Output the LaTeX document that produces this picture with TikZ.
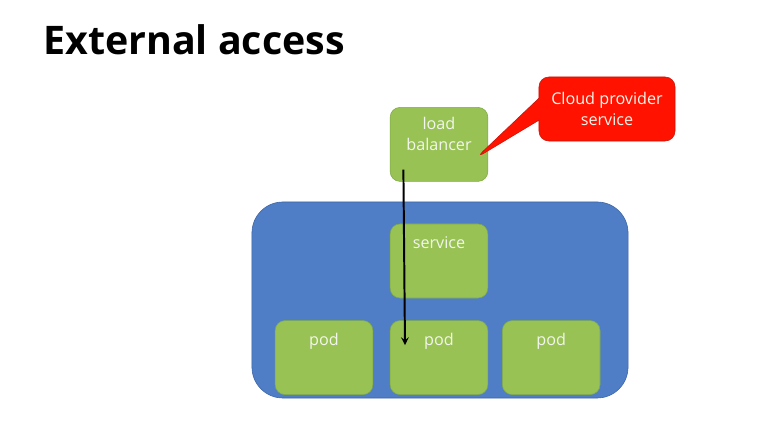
\documentclass[tikz,border=0pt]{standalone}
\usepackage{fontspec}
\setmainfont{Open Sans}
\usetikzlibrary{shapes.callouts, arrows, positioning}
\definecolor{boxgreen}{RGB}{152,194,84}
\definecolor{boxgreenline}{RGB}{128,170,70}
\definecolor{clusterblue}{RGB}{79,126,198}
\definecolor{clusterline}{RGB}{60,100,165}
\definecolor{calloutred}{RGB}{255,18,0}
\definecolor{calloutline}{RGB}{200,20,10}
\definecolor{labelwhite}{RGB}{242,246,236}
\tikzstyle{cluster} = [rectangle, rounded corners = 22pt, minimum width = 9.4cm, minimum height = 4.9cm, draw = clusterline, fill = clusterblue]
\tikzstyle{box} = [rectangle, rounded corners = 7pt, minimum width = 2.44cm, minimum height = 1.85cm, draw = boxgreenline, fill = boxgreen]
\tikzstyle{boxtext} = [text = labelwhite, font = \fontsize{11.5}{15}\selectfont, align = center, inner sep = 0pt]
\tikzstyle{callout} = [rectangle callout, rounded corners = 7pt, minimum width = 3.4cm, minimum height = 1.6cm, draw = calloutline, fill = calloutred, text = labelwhite, font = \fontsize{11.5}{15}\selectfont, align = center, callout pointer width = 0.55cm]
\tikzstyle{arrow} = [line width = 1.4pt, ->, > = stealth]

\begin{document}
\begin{tikzpicture}[x = 0.025cm, y = -0.025cm, node distance = 0.55cm]
\useasboundingbox (0,0) rectangle (758,444);

%TITLE
\node (title) [anchor = base west, inner sep = 0pt, font = \fontsize{28}{32}\selectfont\bfseries] at (43,55) {External access};

%NODES
\node (cluster) [cluster] at (440,300) {};
\node (service) [box, label = {[boxtext, anchor = north, yshift = -0.32cm]north:service}] at (439,261) {};
\node (pod2) [box, below = of service, label = {[boxtext, anchor = north, yshift = -0.32cm]north:pod}] {};
\node (pod1) [box, left = 0.42cm of pod2, label = {[boxtext, anchor = north, yshift = -0.32cm]north:pod}] {};
\node (pod3) [box, right = 0.35cm of pod2, label = {[boxtext, anchor = north, yshift = -0.32cm]north:pod}] {};
\node (lb) [box, above = 1.05cm of service, label = {[boxtext, anchor = north, yshift = -0.25cm]north:load\\balancer}] {};
\coordinate (tip) at (476,158);
\node (cloud) [callout, callout absolute pointer = {(tip)}] at (607,109) {Cloud provider\\service};

%ARROWS
\draw [arrow] ([shift = {(-0.89cm,0.3cm)}]lb.south) -- ([shift = {(-0.85cm,-0.62cm)}]pod2.north);

\end{tikzpicture}
\end{document}
